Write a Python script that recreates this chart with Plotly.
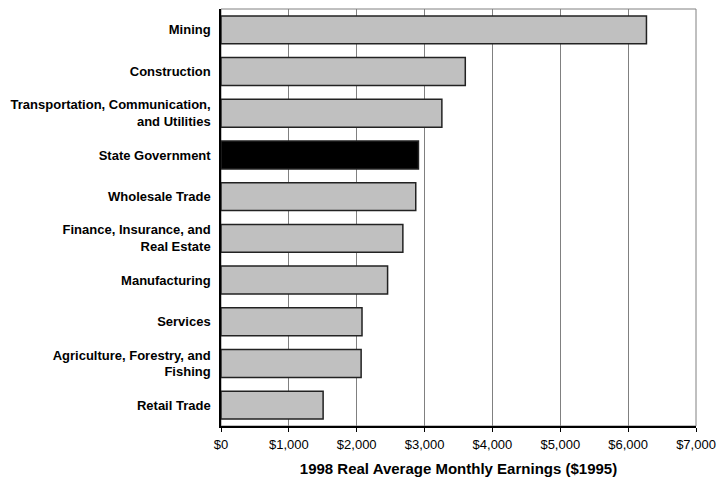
import plotly.graph_objects as go

categories = [
    "Mining",
    "Construction",
    "Transportation, Communication,<br>and Utilities",
    "State Government",
    "Wholesale Trade",
    "Finance, Insurance, and<br>Real Estate",
    "Manufacturing",
    "Services",
    "Agriculture, Forestry, and<br>Fishing",
    "Retail Trade",
]
earnings = [6270, 3600, 3255, 2910, 2870, 2680, 2455, 2078, 2065, 1505]
highlight = "State Government"

colors = ["#000000" if c == highlight else "#C0C0C0" for c in categories]

fig = go.Figure()
fig.add_trace(go.Bar(
    y=categories,
    x=earnings,
    orientation="h",
    marker=dict(color=colors, line=dict(color="#222222", width=1.5)),
    hoverinfo="x+y",
))

fam = "Liberation Sans, Arial, sans-serif"

fig.update_layout(
    width=725,
    height=477,
    margin=dict(l=221, r=29, t=9, b=51),
    paper_bgcolor="white",
    plot_bgcolor="white",
    bargap=0.33,
    showlegend=False,
    font=dict(family=fam, color="black", size=13),
    xaxis=dict(
        range=[0, 7000],
        dtick=1000,
        tick0=0,
        tickprefix="$",
        tickformat=",",
        showgrid=True,
        gridcolor="#808080",
        gridwidth=1,
        zeroline=False,
        showline=True,
        linecolor="black",
        linewidth=1.5,
        ticks="outside",
        ticklen=4,
        tickcolor="black",
        ticklabelstandoff=2,
        automargin=False,
        tickfont=dict(family=fam, size=13, color="black"),
        title=dict(
            text="<b>1998 Real Average Monthly Earnings ($1995)</b>",
            font=dict(family=fam, size=15, color="black"),
            standoff=13,
        ),
    ),
    yaxis=dict(
        autorange="reversed",
        showline=True,
        linecolor="black",
        linewidth=1.5,
        showgrid=False,
        ticks="",
        ticklabelstandoff=6,
        automargin=False,
        tickfont=dict(family=fam, size=13, color="black"),
    ),
    shapes=[dict(
        type="rect", xref="paper", yref="paper", x0=0, x1=1, y0=0, y1=1,
        line=dict(color="#808080", width=1), layer="below",
    )],
)

fig.update_yaxes(ticktext=["<b>" + c + "</b>" for c in categories], tickvals=categories)

fig.write_html("out.html")
